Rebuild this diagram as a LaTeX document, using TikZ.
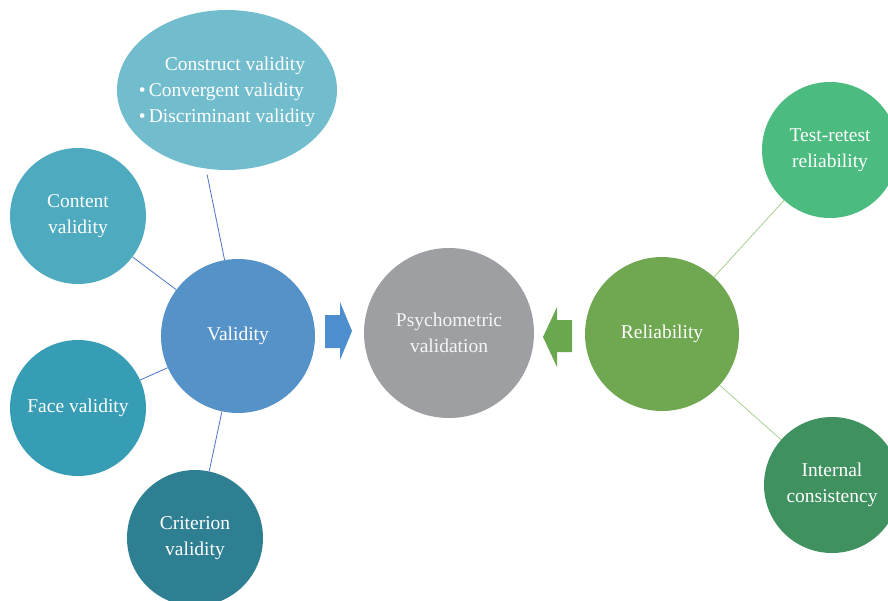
\documentclass[tikz,border=0pt]{standalone}
\usepackage{fontspec}
\setmainfont{Liberation Serif}
\usetikzlibrary{shapes.geometric}
\definecolor{constrc}{HTML}{72BDCD}
\definecolor{contc}{HTML}{4EAABF}
\definecolor{validc}{HTML}{5592C8}
\definecolor{facec}{HTML}{379DB5}
\definecolor{critc}{HTML}{2F7F93}
\definecolor{psyc}{HTML}{9D9FA2}
\definecolor{relc}{HTML}{70A852}
\definecolor{testc}{HTML}{4BBB7F}
\definecolor{intc}{HTML}{3F9160}
\definecolor{varrow}{HTML}{4D8FCE}
\definecolor{rarrow}{HTML}{6AA84F}
\definecolor{vlinec}{HTML}{4A72C4}
\definecolor{rlinec}{HTML}{A8D08D}
\tikzset{
        base/.style={align=center, text=white, inner sep=0pt,
                     font=\fontsize{19.5}{26}\selectfont},
        bubble/.style={base, circle, minimum size=136pt},
        bigbubble/.style={base, circle, minimum size=154pt},
        vline/.style={vlinec, line width=0.8pt},
        rline/.style={rlinec, line width=0.8pt},
 }
\begin{document}
\begin{tikzpicture}[x=1pt, y=-1pt]
    \useasboundingbox (0,0) rectangle (888,600);
    \node[ellipse, fill=constrc, inner sep=0pt, minimum width=220pt,
          minimum height=160pt] (construct) at (227,90) {};
    \node[base] (constructtxt) at ([yshift=-1pt]construct.center)
         {\begin{tabular}{@{}l@{}}
          \multicolumn{1}{@{}c@{}}{\hspace{16pt}Construct validity}\\
          •\,Convergent validity\\
          •\,Discriminant validity
          \end{tabular}};
    \node[bubble, fill=contc] (content) at (78,216) {Content\\validity};
    \node[bubble, fill=facec] (face) at (78,408) {Face validity};
    \node[bubble, fill=critc] (criterion) at (195,538) {Criterion\\validity};
    \node[bigbubble, fill=validc] (valid) at (238,336) {Validity};
    \node[base, circle, fill=psyc, minimum size=170pt, text=white!92!gray]
         (psycho) at (449,333) {Psychometric\\validation};
    \node[bigbubble, fill=relc] (reliab) at (662,334) {Reliability};
    \node[bubble, fill=testc] (retest) at (830,150) {Test-retest\\reliability};
    \node[bubble, fill=intc] (internal) at (832,485) {Internal\\consistency};

    \draw[vline, shorten >=6pt] (valid.100) -- (construct.255);
    \draw[vline] (valid) -- (content);
    \draw[vline] (valid) -- (face);
    \draw[vline] (valid) -- (criterion);
    \draw[rline] (reliab) -- (retest);
    \draw[rline] (reliab) -- (internal);

    % block arrows
    \fill[varrow] (325,315) -- (340,315) -- (340,302) -- (352,331)
          -- (340,360) -- (340,348) -- (325,348) -- cycle;
    \fill[rarrow] (572,320) -- (557,320) -- (557,307) -- (543,337)
          -- (557,367) -- (557,352) -- (572,352) -- cycle;
\end{tikzpicture}
\end{document}
